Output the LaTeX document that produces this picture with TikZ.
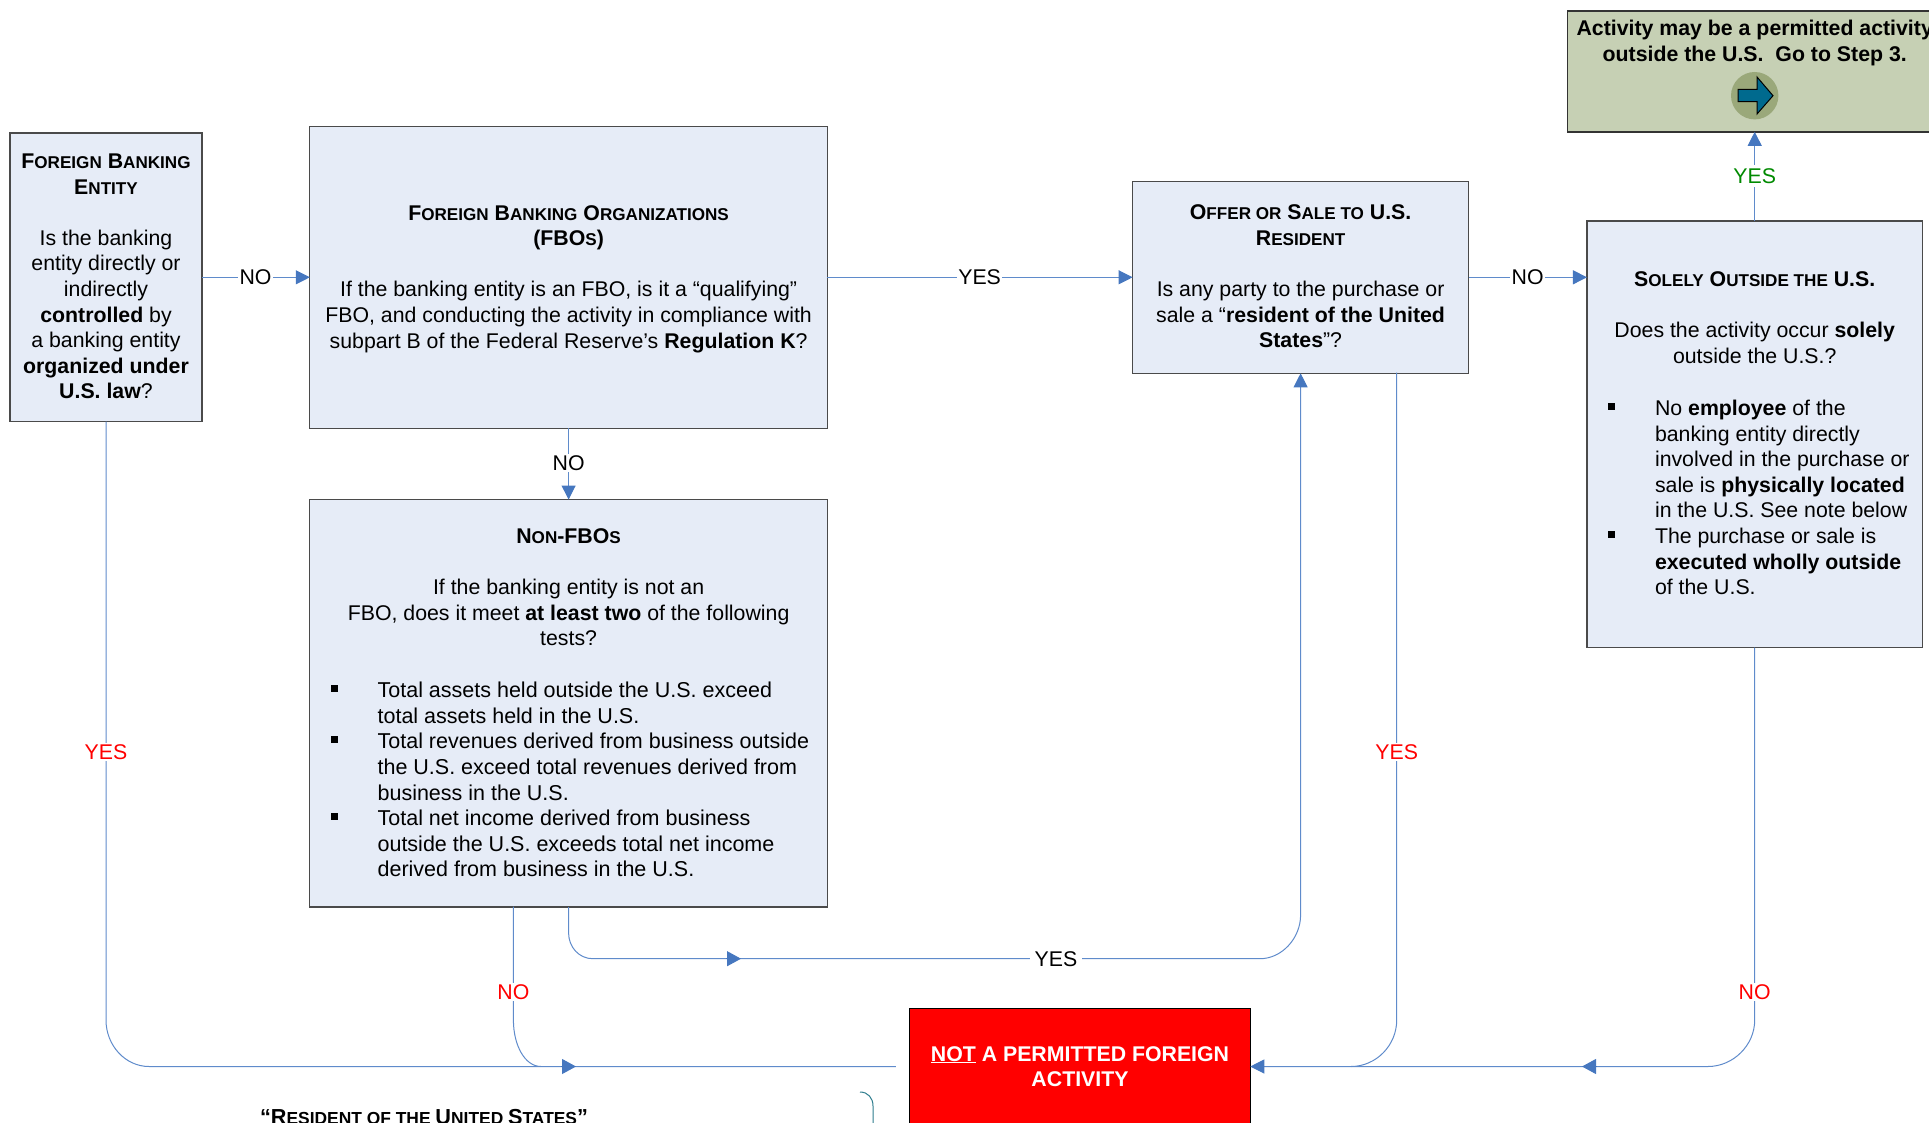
\documentclass[tikz,border=0pt]{standalone}
\usepackage{fontspec}
\setmainfont{Liberation Sans}
\usetikzlibrary{arrows.meta,calc}
\definecolor{boxfill}{HTML}{E6ECF7}
\definecolor{boxline}{HTML}{4A4A4A}
\definecolor{conn}{HTML}{5F8BCB}
\definecolor{tipc}{HTML}{4677BF}
\definecolor{greenfill}{HTML}{C6D0B4}
\definecolor{greencirc}{HTML}{9AA87A}
\definecolor{tealarrow}{HTML}{006A8E}
\definecolor{okgreen}{HTML}{008A00}
\definecolor{brace}{HTML}{2E7D8E}
\newcommand\sm[1]{{\fontsize{17.1}{25.6}\selectfont #1}}
\newcommand\blt{\leavevmode\llap{\rule[5.5pt]{7pt}{7pt}\hspace{39.6pt}}}
\tikzset{
  x=1pt,y=-1pt,
  every node/.style={font=\fontsize{21.3}{25.6}\selectfont, inner sep=0pt, outer sep=0pt},
  box/.style={draw=boxline, line width=1.2pt, fill=boxfill},
  txt/.style={anchor=north, align=center},
  lst/.style={anchor=north west, align=left},
  line/.style={draw=conn, line width=1pt},
  arr/.style={line, -{Triangle[length=14pt,width=14pt,color=tipc]}},
  tipmark/.style={-{Triangle[length=14pt,width=15pt,color=tipc]}, draw=tipc, line width=1pt},
  lab/.style={fill=white, inner xsep=1.5pt, inner ysep=1pt},
  labwide/.style={fill=white, inner xsep=5pt, inner ysep=1pt},
}
\begin{document}
\begin{tikzpicture}
\useasboundingbox (0,0) rectangle (1929,1123);
\clip (0,0) rectangle (1929,1123);
% boxes
\node[box, minimum width=192pt, minimum height=288.5pt] (ent) at (106,277.3) {};
\node[box, minimum width=517.5pt, minimum height=302pt] (fbo) at (568.6,277.3) {};
\node[box, minimum width=518pt, minimum height=407.5pt] (non) at (568.6,703.3) {};
\node[box, minimum width=336pt, minimum height=192pt] (off) at (1300.6,277.3) {};
\node[box, minimum width=335.5pt, minimum height=426.5pt] (sol) at (1754.7,434.3) {};
\node[draw=black!80, line width=1.4pt, fill=greenfill, minimum width=375pt, minimum height=120.7pt] (ok) at (1754.7,71.5) {};
\node[fill=red, draw=black, line width=1pt, minimum width=340.5pt, minimum height=117pt, align=center, text=white, font=\fontsize{21.3}{25.6}\selectfont\bfseries] (bad) at (1080,1066.5) {\underline{NOT} A PERMITTED FOREIGN\\ACTIVITY};
% texts
\node[txt] (t1) at (106,150.5) {\strut\bfseries F\sm{OREIGN} B\sm{ANKING}\\\bfseries E\sm{NTITY}\\[25.6pt]
 Is the banking\\entity directly or\\indirectly\\\textbf{controlled} by\\a banking entity\\\textbf{organized under}\\\textbf{U.S. law}?};
\node[txt] (t2) at (568.6,202.1) {\strut\bfseries F\sm{OREIGN} B\sm{ANKING} O\sm{RGANIZATIONS}\\\bfseries (FBO\sm{S})\\[25.6pt]
 If the banking entity is an FBO, is it a “qualifying”\\FBO, and conducting the activity in compliance with\\subpart B of the Federal Reserve’s \textbf{Regulation K}?};
\node[txt] (t3) at (568.6,525.5) {\strut\bfseries N\sm{ON}-FBO\sm{S}\\[25.6pt]
 If the banking entity is not an\\FBO, does it meet \textbf{at least two} of the following\\tests?};
\node[lst, font=\fontsize{21.5}{25.6}\selectfont] (t3b) at (377.6,679.8) {\strut\blt Total assets held outside the U.S. exceed\\total assets held in the U.S.\\\blt Total revenues derived from business outside\\the U.S. exceed total revenues derived from\\business in the U.S.\\\blt Total net income derived from business\\outside the U.S. exceeds total net income\\derived from business in the U.S.};
\node[txt] (t4) at (1300.6,201.8) {\strut\bfseries O\sm{FFER OR} S\sm{ALE TO} U.S.\\\bfseries R\sm{ESIDENT}\\[25.6pt]
 Is any party to the purchase or\\sale a “\textbf{resident of the United}\\\textbf{States}”?};
\node[txt] (t5) at (1754.7,268.5) {\strut\bfseries S\sm{OLELY} O\sm{UTSIDE THE} U.S.\\[25.6pt]
 Does the activity occur \textbf{solely}\\outside the U.S.?};
\node[lst] (t5b) at (1655,397.5) {\strut\blt No \textbf{employee} of the\\banking entity directly\\involved in the purchase or\\sale is \textbf{physically located}\\in the U.S. See note below\\\blt The purchase or sale is\\\textbf{executed wholly outside}\\of the U.S.};
\node[txt, font=\fontsize{21.3}{25.6}\selectfont\bfseries] (t6) at (1754.7,17.8) {\strut Activity may be a permitted activity\\outside the U.S.\ \ Go to Step 3.};
\node[anchor=base, font=\fontsize{21.7}{25.6}\selectfont\bfseries] (t7) at (424,1124.4) {“R\fontsize{17.4}{25.6}\selectfont ESIDENT OF THE \fontsize{21.7}{25.6}\selectfont U\fontsize{17.4}{25.6}\selectfont NITED \fontsize{21.7}{25.6}\selectfont S\fontsize{17.4}{25.6}\selectfont TATES\fontsize{21.7}{25.6}\selectfont ”};
% go icon
\node[circle, fill=greencirc, minimum size=47.4pt] (goc) at (1754.7,95.7) {};
\draw[fill=tealarrow, draw=black, line width=1pt, line join=miter]
  (1738,89.3) -- (1757,89.3) -- (1757,77) -- (1773,95.7) -- (1757,114) -- (1757,101.7) -- (1738,101.7) -- cycle;
% named connector points
\coordinate (noExit) at (513.4,906.7);
\coordinate (offExit) at (1396.6,372.7);
\coordinate (leftEnd) at ($(bad.west)+(-14,0)$);
\coordinate (midL) at (576,1066.5);
\coordinate (midR) at (1582,1066.5);
\coordinate (midY) at (741,958.7);
% connectors
\draw[arr] (ent.east) -- (fbo.west);
\draw[arr] (fbo.east) -- (off.west);
\draw[arr] (off.east) -- (sol.west |- off.east);
\draw[arr] (sol.north) -- (ok.south);
\draw[arr] (fbo.south) -- (non.north);
\draw[line] (ent.south) -- (106,1020) .. controls (106,1045.4) and (125.3,1066.5) .. (149,1066.5) -- (leftEnd);
\draw[line] (noExit) -- (513.4,1020) .. controls (513.4,1045.4) and (525,1066.5) .. (541,1066.5);
\draw[arr] (non.south) -- (568.6,933) .. controls (568.6,947) and (579,958.7) .. (592.8,958.7) -- (1260,958.7) .. controls (1282,958.7) and (1300.6,938) .. (1300.6,915) -- (off.south);
\draw[line] (offExit) -- (1396.7,1020) .. controls (1396.7,1045.4) and (1376,1066.5) .. (1351,1066.5);
\draw[arr] (sol.south) -- (1754.7,1020) .. controls (1754.7,1045.4) and (1733,1066.5) .. (1708,1066.5) -- (bad.east);
\draw[tipmark] ($(midL)+(-15,0)$) -- (midL);
\draw[tipmark] ($(midR)+(15,0)$) -- (midR);
\draw[tipmark] ($(midY)+(-15,0)$) -- (midY);
\draw[draw=brace, line width=1pt] (860,1092) .. controls (868,1092) and (873,1098) .. (873,1106) -- (873,1125);
% labels
\node[lab] (l1) at (255.5,277.3) {NO};
\node[labwide, inner xsep=1.5pt] (l2) at (979.6,277.3) {YES};
\node[lab] (l3) at (1527.6,277.3) {NO};
\node[lab] (l4) at (568.6,463) {NO};
\node[lab, text=okgreen, inner ysep=3pt] (l5) at (1754.7,176) {YES};
\node[lab, text=red] (l6) at (106,752) {YES};
\node[lab, text=red] (l7) at (1396.7,752) {YES};
\node[lab, text=red] (l8) at (513.4,992) {NO};
\node[lab, text=red] (l9) at (1754.7,992) {NO};
\node[labwide] (l10) at (1056,958.7) {YES};
\end{tikzpicture}
\end{document}
